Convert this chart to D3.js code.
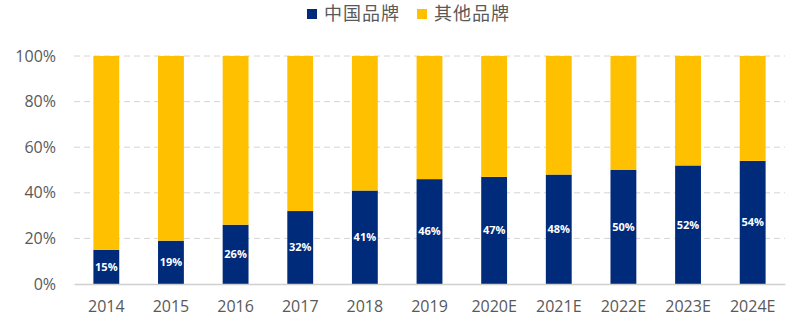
<!DOCTYPE html>
<html>
<head>
<meta charset="utf-8">
<script src="https://cdn.jsdelivr.net/npm/d3@7"></script>
<style>
  body { margin: 0; background: #fff; }
  svg { display: block; }
</style>
</head>
<body>
<div id="chart"></div>
<script>
// Years and share of Chinese brands (%), the rest is other brands
var years = ['2014', '2015', '2016', '2017', '2018', '2019', '2020E', '2021E', '2022E', '2023E', '2024E'];
var chinaShare = [15, 19, 26, 32, 41, 46, 47, 48, 50, 52, 54];
var seriesNames = ['中国品牌', '其他品牌'];
var yTicks = [0, 20, 40, 60, 80, 100];

var colors = ['#002B7A', '#FFC000'];

var svgWidth = 800;
var svgHeight = 326;

var margin = { top: 56, right: 15, bottom: 42, left: 74 };
var chartWidth = svgWidth - margin.left - margin.right;
var chartHeight = svgHeight - margin.top - margin.bottom;

var svg = d3.select('#chart')
    .append('svg')
    .attr('width', svgWidth)
    .attr('height', svgHeight);

var chartGroup = svg.append('g')
    .attr('transform', `translate(${margin.left}, ${margin.top})`);

// Build rows for the stack
var rows = years.map(function (y, i) {
    return { year: y, china: chinaShare[i], other: 100 - chinaShare[i] };
});

var stacked = d3.stack().keys(['china', 'other'])(rows);

var xScale = d3.scaleBand()
    .domain(years)
    .range([0, chartWidth])
    .paddingInner(0.6)
    .paddingOuter(0.3);

var yScale = d3.scaleLinear()
    .domain([0, 100])
    .range([chartHeight, 0]);

// Dashed grid lines
chartGroup.append('g')
    .selectAll('line')
    .data(yTicks.filter(d => d > 0))
    .enter()
    .append('line')
    .attr('x1', 0)
    .attr('x2', chartWidth)
    .attr('y1', d => yScale(d))
    .attr('y2', d => yScale(d))
    .attr('stroke', '#d4d4d4')
    .attr('stroke-width', 1)
    .attr('stroke-dasharray', '6,4');

// Y axis labels
var yAxis = d3.axisLeft(yScale)
    .tickValues(yTicks)
    .tickFormat(d => d + '%')
    .tickSize(0)
    .tickPadding(18);

var yAxisGroup = chartGroup.append('g').call(yAxis);
yAxisGroup.select('.domain').remove();
yAxisGroup.selectAll('text')
    .attr('fill', '#595959')
    .style('font-family', '"Open Sans", sans-serif')
    .style('font-size', '16px');

// Bars
chartGroup.selectAll('.series')
    .data(stacked)
    .enter()
    .append('g')
    .attr('fill', (d, i) => colors[i])
    .selectAll('rect')
    .data(d => d)
    .enter()
    .append('rect')
    .attr('x', d => xScale(d.data.year))
    .attr('y', d => yScale(d[1]))
    .attr('width', xScale.bandwidth())
    .attr('height', d => yScale(d[0]) - yScale(d[1]));

// Value labels inside the blue segments
chartGroup.selectAll('.value')
    .data(rows)
    .enter()
    .append('text')
    .attr('x', d => xScale(d.year) + xScale.bandwidth() / 2)
    .attr('y', d => yScale(d.china / 2))
    .attr('dy', '0.35em')
    .attr('text-anchor', 'middle')
    .attr('fill', '#fff')
    .style('font-family', '"Open Sans", sans-serif')
    .style('font-weight', 'bold')
    .style('font-size', '11px')
    .text(d => d.china + '%');

// X axis
var xAxis = d3.axisBottom(xScale).tickSize(0).tickPadding(17);
var xAxisGroup = chartGroup.append('g')
    .attr('transform', `translate(0, ${chartHeight})`)
    .call(xAxis);
xAxisGroup.select('.domain')
    .attr('stroke', '#d0d0d0')
    .attr('stroke-width', 1.5);
xAxisGroup.selectAll('text')
    .attr('fill', '#595959')
    .style('font-family', '"Open Sans", sans-serif')
    .style('font-size', '16px');

// Legend
var legend = svg.append('g').attr('transform', 'translate(307, 0)');
var legendX = [0, 110];
seriesNames.forEach(function (name, i) {
    var item = legend.append('g').attr('transform', `translate(${legendX[i]}, 0)`);
    item.append('rect')
        .attr('x', 0)
        .attr('y', 9)
        .attr('width', 10)
        .attr('height', 10)
        .attr('fill', colors[i]);
    item.append('text')
        .attr('x', 17)
        .attr('y', 14)
        .attr('dy', '0.35em')
        .attr('fill', '#595959')
        .style('font-family', '"Noto Sans CJK SC", sans-serif')
        .style('font-size', '18px')
        .style('letter-spacing', '1px')
        .text(name);
});
</script>
</body>
</html>
